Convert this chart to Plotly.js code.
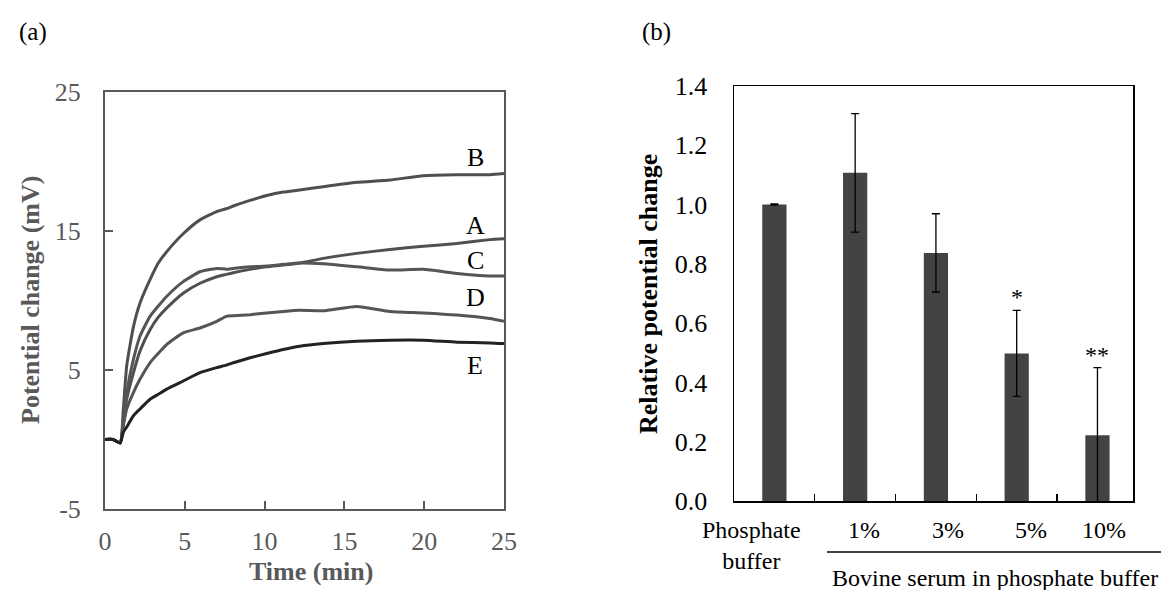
<!DOCTYPE html>
<html>
<head>
<meta charset="utf-8">
<script src="https://cdn.plot.ly/plotly-3.0.1.min.js"></script>
<style>
  html, body { margin: 0; padding: 0; background: #fff; }
  #chart { width: 1161px; height: 590px; }
</style>
</head>
<body>
<div id="chart"></div>
<script>
// ---------- Panel (a): potential change vs time ----------
const time   = [0, 0.5, 0.95, 1.15, 1.36, 1.78, 2.19, 2.82, 3.34, 3.86, 4.9, 5.95, 7.0, 7.6, 8.04, 9.09, 10.13, 11.17, 12.2, 13.68, 15.77, 17.86, 19.94, 22.04, 24.12, 25];
const curveA = [0, 0, -0.25, 1.2, 2.9, 4.8, 6.36, 7.9, 8.8, 9.45, 10.52, 11.24, 11.71, 11.88, 12.0, 12.24, 12.43, 12.55, 12.7, 13.03, 13.39, 13.67, 13.9, 14.1, 14.38, 14.45];
const curveB = [0, 0, -0.25, 2.2, 5.3, 8.1, 9.8, 11.5, 12.7, 13.5, 14.8, 15.8, 16.4, 16.6, 16.8, 17.2, 17.55, 17.8, 17.95, 18.19, 18.5, 18.67, 18.98, 19.05, 19.05, 19.14];
const curveC = [0, 0, -0.25, 1.5, 3.38, 5.76, 7.43, 8.86, 9.6, 10.29, 11.36, 12.07, 12.31, 12.25, 12.31, 12.43, 12.48, 12.6, 12.7, 12.65, 12.43, 12.19, 12.24, 11.95, 11.76, 11.76];
const curveD = [0, 0, -0.25, 1.0, 2.2, 3.38, 4.33, 5.52, 6.2, 6.83, 7.67, 8.02, 8.5, 8.86, 8.9, 8.98, 9.1, 9.21, 9.29, 9.26, 9.57, 9.21, 9.1, 8.95, 8.7, 8.5];
const curveE = [0, 0, -0.25, 0.52, 0.9, 1.71, 2.19, 2.9, 3.25, 3.62, 4.21, 4.81, 5.17, 5.35, 5.52, 5.88, 6.19, 6.48, 6.71, 6.9, 7.07, 7.14, 7.14, 7.0, 6.95, 6.9];
const curveNames = ["A", "B", "C", "D", "E"];
const yTickVals = [-5, 5, 15, 25];
const yTickText = ["-5", "5", "15", "25"];
const xTickVals = [0, 5, 10, 15, 20, 25];

// ---------- Panel (b): relative potential change ----------
const barCategories = ["Phosphate<br>buffer", "1%", "3%", "5%", "10%"];
const barValues = [1.0, 1.107, 0.837, 0.498, 0.222];
const barErrors = [0.002, 0.2, 0.132, 0.145, 0.228];
const significance = ["", "", "", "*", "**"];
const barTickVals = [0, 0.2, 0.4, 0.6, 0.8, 1.0, 1.2, 1.4];
const groupLabel = "Bovine serum in phosphate buffer";

const SERIF = "Liberation Serif";
const GRAY = "#595959";
const W = 1161, H = 590;
const px = v => v / W;
const py = v => 1 - v / H;

const curves = [curveA, curveB, curveC, curveD, curveE];
const lineColors = ["#505050", "#4f4f4f", "#555555", "#555555", "#222222"];
const traces = curves.map((c, i) => ({
  type: "scatter", mode: "lines", x: time, y: c, name: curveNames[i],
  line: { color: lineColors[i], width: 3, shape: "spline", smoothing: 0.5 }, xaxis: "x", yaxis: "y",
  hoverinfo: "skip"
}));

traces.push({
  type: "bar", x: barCategories, y: barValues, xaxis: "x2", yaxis: "y2",
  width: 0.3, marker: { color: "#434343", line: { width: 0 } },
  error_y: { type: "data", array: barErrors, visible: true, color: "#000", thickness: 1.3, width: 4 },
  hoverinfo: "skip"
});

const labelPos = { A: [23.2, 15.4], B: [23.2, 20.3], C: [23.2, 12.9], D: [23.2, 10.2], E: [23.2, 5.3] };
const annotations = curveNames.map(n => ({
  xref: "x", yref: "y", x: labelPos[n][0], y: labelPos[n][1], text: n, showarrow: false,
  xanchor: "center", yanchor: "middle",
  font: { family: SERIF, size: 26, color: "#000" }
}));

significance.forEach((s, i) => {
  if (!s) return;
  annotations.push({
    xref: "x2", yref: "y2", x: barCategories[i], y: barValues[i] + barErrors[i], text: s,
    showarrow: false, xanchor: "center", yanchor: "bottom", yshift: -2,
    font: { family: SERIF, size: 24, color: "#000" }
  });
});

// category labels under the bars (offsets as in the original figure)
const catShift = [-23, 9, 12, 14, 7];
barCategories.forEach((c, i) => {
  annotations.push({
    xref: "x2", yref: "paper", x: c, y: py(515), text: c, showarrow: false,
    xanchor: "center", yanchor: "top", xshift: catShift[i],
    font: { family: SERIF, size: 24, color: "#000" }
  });
});

const P = (x, y, text, size, color, extra) => Object.assign({
  xref: "paper", yref: "paper", x: px(x), y: py(y), text: text, showarrow: false,
  xanchor: "center", yanchor: "middle", font: { family: SERIF, size: size, color: color }
}, extra || {});

annotations.push(
  P(33, 32, "(a)", 25, "#000"),
  P(656, 32, "(b)", 25, "#000"),
  P(30, 300, "<b>Potential change (mV)</b>", 26, GRAY, { textangle: -90 }),
  P(311, 571, "<b>Time (min)</b>", 26, GRAY),
  P(648, 294, "<b>Relative potential change</b>", 26, "#000", { textangle: -90 }),
  P(995, 578, groupLabel, 24, "#000")
);

const layout = {
  width: W, height: H,
  margin: { l: 0, r: 0, t: 0, b: 0 },
  paper_bgcolor: "#fff", plot_bgcolor: "#fff",
  showlegend: false,
  font: { family: SERIF, size: 25, color: "#000" },
  xaxis: {
    domain: [px(105), px(504)], anchor: "y", range: [0, 25],
    tickvals: xTickVals, ticks: "inside", ticklen: 8, tickwidth: 2, tickcolor: GRAY,
    showline: true, linecolor: GRAY, linewidth: 2, mirror: true, showgrid: false, zeroline: false,
    tickfont: { family: SERIF, size: 26, color: GRAY }, ticklabelstandoff: 8
  },
  yaxis: {
    domain: [py(509), py(92)], anchor: "x", range: [-5, 25],
    tickvals: yTickVals, ticktext: yTickText, ticks: "inside", ticklen: 8, tickwidth: 2, tickcolor: GRAY,
    showline: true, linecolor: GRAY, linewidth: 2, mirror: true, showgrid: false, zeroline: false,
    tickfont: { family: SERIF, size: 26, color: GRAY }, ticklabelstandoff: 17
  },
  xaxis2: {
    domain: [px(734), px(1133)], anchor: "y2", type: "category", range: [-0.5, 4.44],
    tickson: "boundaries", ticks: "inside", ticklen: 7, tickwidth: 1.3, tickcolor: "#000",
    showticklabels: false,
    showline: true, linecolor: "#000", linewidth: 1.5, mirror: true, showgrid: false, zeroline: false
  },
  yaxis2: {
    domain: [py(501), py(86)], anchor: "x2", range: [0, 1.4],
    tickvals: barTickVals, tickformat: ".1f", ticks: "",
    showline: true, linecolor: "#000", linewidth: 1.5, mirror: true, showgrid: false, zeroline: false,
    tickfont: { family: SERIF, size: 26, color: "#000" }, ticklabelstandoff: 20
  },
  shapes: [
    { type: "line", xref: "paper", yref: "paper", x0: px(827), x1: px(1161), y0: py(552), y1: py(552), line: { color: "#000", width: 1.5 } }
  ],
  annotations: annotations
};

Plotly.newPlot("chart", traces, layout, { staticPlot: true, displayModeBar: false });
</script>
</body>
</html>
